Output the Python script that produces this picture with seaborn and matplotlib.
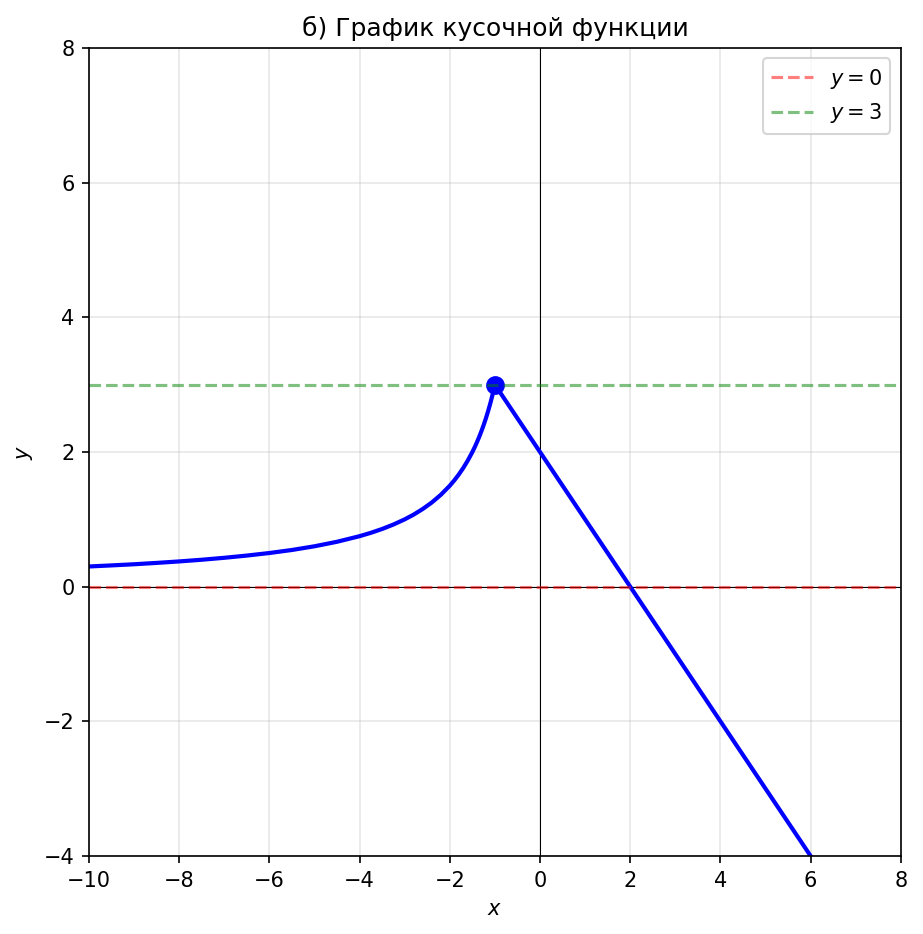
import numpy as np
import pandas as pd
import matplotlib
matplotlib.use("Agg")
import matplotlib.pyplot as plt
import seaborn as sns

# left branch
left_x = [-10, -9.5, -9, -8.5, -8, -7.5, -7, -6.5, -6, -5.5, -5, -4.5, -4,
          -3.75, -3.5, -3.25, -3, -2.8, -2.6, -2.4, -2.2, -2, -1.9, -1.8,
          -1.7, -1.6, -1.5, -1.45, -1.4, -1.35, -1.3, -1.25, -1.2, -1.15,
          -1.1, -1.05, -1]
left_y = [0.3, 0.316, 0.333, 0.353, 0.375, 0.4, 0.429, 0.462, 0.5, 0.545,
          0.6, 0.667, 0.75, 0.8, 0.857, 0.923, 1.0, 1.071, 1.154, 1.25,
          1.364, 1.5, 1.579, 1.667, 1.765, 1.875, 2.0, 2.069, 2.143, 2.222,
          2.308, 2.4, 2.5, 2.609, 2.727, 2.857, 3.0]
# right branch
right_x = [-1, 6]
right_y = [3, -4]
# special point
pt_x = [-1]
pt_y = [3]

df_left = pd.DataFrame({"x": left_x, "y": left_y})
df_right = pd.DataFrame({"x": right_x, "y": right_y})

fig = plt.figure(figsize=(923/150, 934/150), dpi=150)
ax = fig.add_axes([0.0964, 0.0835, 0.8796, 0.8651])

ax.grid(True, alpha=0.3)
ax.axhline(0, color="black", linewidth=0.5)
ax.axvline(0, color="black", linewidth=0.5)

sns.lineplot(data=df_left, x="x", y="y", ax=ax, color="blue", linewidth=2,
             sort=False, estimator=None)
sns.lineplot(data=df_right, x="x", y="y", ax=ax, color="blue", linewidth=2,
             sort=False, estimator=None)
ax.plot(pt_x, pt_y, "o", color="blue", markersize=8)

ax.axhline(0, color="red", linestyle="--", alpha=0.5, label="$y = 0$")
ax.axhline(3, color="green", linestyle="--", alpha=0.5, label="$y = 3$")

ax.set_xlim(-10, 8)
ax.set_ylim(-4, 8)
ax.set_xticks(range(-10, 9, 2))
ax.set_yticks(range(-4, 9, 2))
ax.set_xlabel("$x$")
ax.set_ylabel("$y$")
ax.set_title("б) График кусочной функции")
ax.legend(loc="upper right")

fig.savefig("out.png", dpi=150)
